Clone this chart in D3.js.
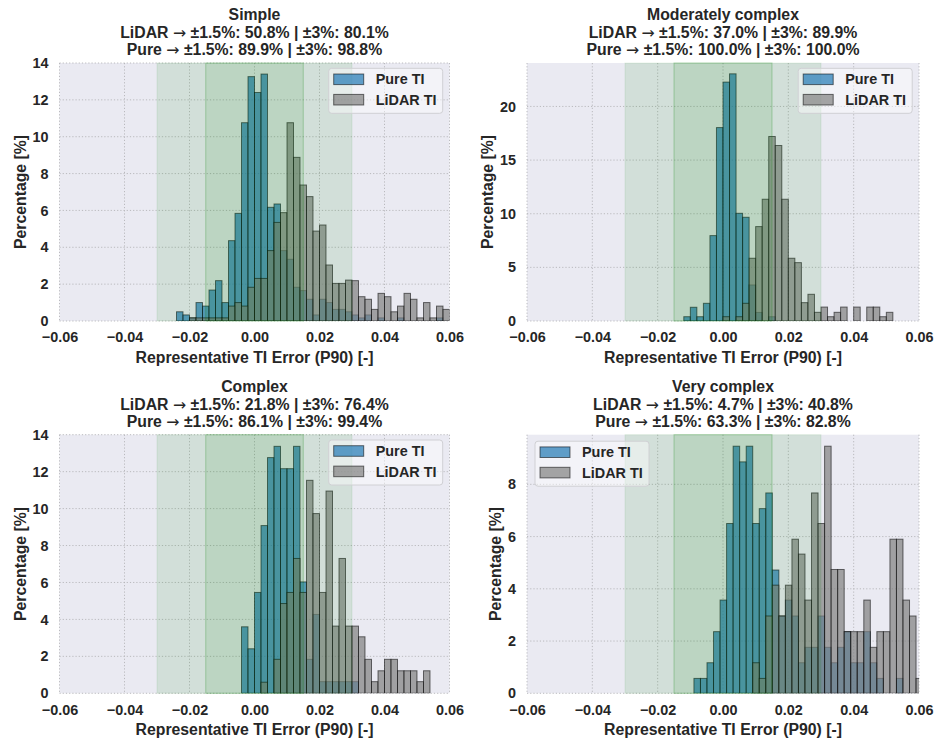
<!DOCTYPE html>
<html>
<head>
<meta charset="utf-8">
<script src="https://cdn.jsdelivr.net/npm/d3@7"></script>
<style>
  body { margin: 0; background: #fff; }
  text { font-family: "Liberation Sans", Arial, sans-serif; font-weight: bold; fill: #262626; }
</style>
</head>
<body>
<svg id="chart" width="935" height="738"></svg>
<script>
// ---- data ----
var panelNames = ["Simple", "Moderately complex", "Complex", "Very complex"];
var lidarIn15 = [50.8, 37.0, 21.8, 4.7];
var lidarIn3 = [80.1, 89.9, 76.4, 40.8];
var pureIn15 = [89.9, 100.0, 86.1, 63.3];
var pureIn3 = [98.8, 100.0, 99.4, 82.8];

var xTicks = [-0.06, -0.04, -0.02, 0, 0.02, 0.04, 0.06];
var yTicksSimple = [0, 2, 4, 6, 8, 10, 12, 14];
var yTicksModerate = [0, 5, 10, 15, 20];
var yTicksComplex = [0, 2, 4, 6, 8, 10, 12, 14];
var yTicksVery = [0, 2, 4, 6, 8];
var yMaxes = [14, 24.05, 14, 9.9];

var binWidth = 0.002;
var binStarts = [-0.024, -0.012, -0.004, -0.0089];

var simplePure = [0.5, 0.33, 0.17, 1.0, 0.81, 1.68, 2.19, 1.0, 4.36, 5.84, 10.76, 13.26, 12.4, 13.4,
  6.17, 6.35, 3.82, 3.35, 1.83, 1.65, 1.18, 0.33, 1.18, 1.0, 0.63, 0.63, 0.5, 0.33, 0.17, 0.33,
  0, 0.17, 0, 0, 0.17, 0, 0, 0, 0, 0, 0.17, 0];
var simpleLidar = [0, 0, 0.17, 0.17, 0.17, 0.17, 0.17, 0.17, 0.81, 1.0, 0.81, 1.83, 2.31, 2.31,
  3.82, 5.35, 5.88, 10.76, 8.88, 7.38, 6.75, 4.88, 5.21, 3.04, 2.04, 2.04, 2.22, 2.19, 1.32, 1.18,
  0.63, 1.5, 1.32, 0.5, 0.81, 1.5, 1.18, 0.17, 1.0, 0.17, 0.81, 0.63];

var moderatePure = [0.4, 1.28, 0.4, 1.65, 7.96, 18.03, 22.27, 23.04, 10.04, 9.67, 3.36, 0.8, 0, 0.4,
  0, 0, 0, 0, 0, 0, 0, 0, 0, 0, 0, 0, 0, 0, 0, 0, 0, 0];
var moderateLidar = [0, 0, 0, 0, 0, 0, 0.4, 0, 0.4, 1.65, 5.85, 8.8, 11.35, 17.2, 16.36, 11.35,
  5.85, 5.44, 1.71, 2.49, 0.81, 1.3, 0.4, 0.81, 1.3, 0, 1.3, 0, 1.3, 1.3, 0.4, 0.81];

var complexPure = [3.6, 2.41, 5.46, 9.08, 12.76, 13.37, 12.16, 12.16, 13.37, 6.03, 1.84, 4.27,
  0.63, 0.63, 0.63, 0.63, 0.63, 0.63, 0, 0, 0, 0, 0, 0, 0, 0, 0, 0, 0];
var complexLidar = [0, 0, 0, 0.6, 0, 1.84, 4.86, 5.46, 7.3, 5.46, 11.53, 9.73, 5.46, 10.95, 3.64,
  7.3, 3.64, 3.64, 3.06, 1.84, 0.63, 1.22, 1.84, 1.84, 1.22, 1.22, 1.22, 0.63, 1.22];

var veryPure = [0.57, 0.57, 1.17, 2.36, 3.57, 6.5, 9.46, 8.86, 9.46, 6.5, 7.07, 7.67, 4.72, 2.96,
  3.57, 2.96, 1.17, 1.76, 1.76, 2.96, 1.76, 1.17, 1.76, 2.36, 1.17, 1.17, 2.36, 1.17, 0.57, 0, 0,
  0.57, 0, 0, 0];
var veryLidar = [0, 0, 0, 0, 0, 0, 0, 0, 0, 1.17, 0.57, 2.96, 4.14, 2.96, 4.14, 5.9, 5.33, 3.57,
  7.67, 6.5, 9.46, 4.74, 4.74, 2.36, 2.36, 2.36, 3.57, 1.76, 2.36, 2.36, 5.9, 5.9, 3.57, 2.96, 0.57];

var pureSeries = [simplePure, moderatePure, complexPure, veryPure];
var lidarSeries = [simpleLidar, moderateLidar, complexLidar, veryLidar];
var yTickSets = [yTicksSimple, yTicksModerate, yTicksComplex, yTicksVery];
var bandInner = 0.015, bandOuter = 0.03;

// ---- layout ----
var boxes = [
  {left: 59.5, top: 63, width: 390, height: 258, legend: "right"},
  {left: 527, top: 63, width: 392, height: 258, legend: "right"},
  {left: 59.5, top: 434.7, width: 390, height: 258.6, legend: "right"},
  {left: 527, top: 434.7, width: 392, height: 258.6, legend: "left"}
];
var colors = {
  bg: "#eaeaf2",
  grid: "#b4b4b8",
  pure: "#1f77b4",
  lidar: "#808080",
  band: "green"
};
var fmt1 = d3.format(".1f");
var svg = d3.select("#chart");

var drawPanel = function(i) {
  var b = boxes[i];
  var g = svg.append("g").attr("transform", "translate(" + b.left + "," + b.top + ")");

  var x = d3.scaleLinear().domain([-0.06, 0.06]).range([0, b.width]);
  var y = d3.scaleLinear().domain([0, yMaxes[i]]).range([b.height, 0]);

  g.append("rect").attr("width", b.width).attr("height", b.height).attr("fill", colors.bg);

  var clipId = "clip" + i;
  g.append("clipPath").attr("id", clipId)
    .append("rect").attr("width", b.width).attr("height", b.height);

  // grid
  var grid = g.append("g").attr("stroke", colors.grid).attr("stroke-width", 0.9)
    .attr("stroke-dasharray", "1.2,2");
  grid.selectAll(".vx").data(xTicks).enter().append("line")
    .attr("x1", function(d) { return x(d); }).attr("x2", function(d) { return x(d); })
    .attr("y1", 0).attr("y2", b.height);
  grid.selectAll(".hy").data(yTickSets[i]).enter().append("line")
    .attr("x1", 0).attr("x2", b.width)
    .attr("y1", function(d) { return y(d); }).attr("y2", function(d) { return y(d); });

  // bars
  var bars = g.append("g").attr("clip-path", "url(#" + clipId + ")");
  var drawHist = function(values, color) {
    var data = values.map(function(v, j) {
      return {x0: binStarts[i] + j * binWidth, x1: binStarts[i] + (j + 1) * binWidth, v: v};
    }).filter(function(d) { return d.v > 0; });
    bars.append("g").selectAll("rect").data(data).enter().append("rect")
      .attr("x", function(d) { return x(d.x0); })
      .attr("width", function(d) { return x(d.x1) - x(d.x0); })
      .attr("y", function(d) { return y(d.v); })
      .attr("height", function(d) { return y(0) - y(d.v); })
      .attr("fill", color).attr("fill-opacity", 0.7)
      .attr("stroke", "#000").attr("stroke-opacity", 0.55).attr("stroke-width", 1);
  };
  drawHist(pureSeries[i], colors.pure);
  drawHist(lidarSeries[i], colors.lidar);

  // tolerance bands, drawn over the bars
  [bandOuter, bandInner].forEach(function(w, k) {
    g.append("rect")
      .attr("x", x(-w)).attr("y", 0)
      .attr("width", x(w) - x(-w)).attr("height", b.height)
      .attr("fill", colors.band).attr("fill-opacity", 0.1)
      .attr("stroke", colors.band).attr("stroke-opacity", k ? 0.25 : 0.08);
  });

  // axes
  var xAxis = g.append("g").attr("transform", "translate(0," + b.height + ")")
    .call(d3.axisBottom(x).tickValues(xTicks).tickFormat(d3.format(".2f")).tickSize(0).tickPadding(11));
  var yAxis = g.append("g")
    .call(d3.axisLeft(y).tickValues(yTickSets[i]).tickFormat(d3.format("d")).tickSize(0).tickPadding(11));
  [xAxis, yAxis].forEach(function(a) {
    a.select(".domain").remove();
    a.selectAll("text").attr("font-size", 14.4).attr("font-family", null).attr("fill", "#262626");
  });

  var maxW = 0;
  yAxis.selectAll("text").each(function() { maxW = Math.max(maxW, this.getComputedTextLength()); });

  g.append("text")
    .attr("x", b.width / 2).attr("y", b.height + 41.5)
    .attr("text-anchor", "middle").attr("font-size", 15.8)
    .text("Representative TI Error (P90) [-]");
  g.append("text")
    .attr("transform", "translate(" + (-11 - maxW - 12.5 + 5.7) + "," + (b.height / 2) + ") rotate(-90)")
    .attr("text-anchor", "middle").attr("font-size", 15.8)
    .text("Percentage [%]");

  // title: name, then the two score lines (arrow set in DejaVu for a full-width glyph)
  var lines = [
    [panelNames[i]],
    ["LiDAR ", "\u2192", " \u00b11.5%: " + fmt1(lidarIn15[i]) + "% | \u00b13%: " + fmt1(lidarIn3[i]) + "%"],
    ["Pure ", "\u2192", " \u00b11.5%: " + fmt1(pureIn15[i]) + "% | \u00b13%: " + fmt1(pureIn3[i]) + "%"]
  ];
  lines.forEach(function(parts, k) {
    var t = g.append("text")
      .attr("x", b.width / 2).attr("y", -42.6 + k * 17.4)
      .attr("text-anchor", "middle").attr("font-size", 15.8);
    parts.forEach(function(p, m) {
      var s = t.append("tspan").text(p);
      if (m === 1) s.attr("font-family", "DejaVu Sans").attr("font-weight", "normal");
    });
  });

  // legend
  var lw = 114, lh = 45;
  var lx = b.legend === "right" ? b.width - 6.8 - lw : 8;
  var ly = b.legend === "right" ? 5.3 : 6.5;
  var leg = g.append("g").attr("transform", "translate(" + lx + "," + ly + ")");
  leg.append("rect").attr("width", lw).attr("height", lh).attr("rx", 3)
    .attr("fill", "#fff").attr("fill-opacity", 0.45)
    .attr("stroke", "#d0d0d4").attr("stroke-width", 1);
  var entries = [{label: "Pure TI", color: colors.pure}, {label: "LiDAR TI", color: colors.lidar}];
  entries.forEach(function(e, k) {
    var cy = 11 + k * 20.4;
    leg.append("rect").attr("x", 5).attr("y", cy - 5.3).attr("width", 30).attr("height", 10.6)
      .attr("fill", e.color).attr("fill-opacity", 0.7)
      .attr("stroke", "#000").attr("stroke-opacity", 0.55);
    leg.append("text").attr("x", 47).attr("y", cy + 5.2).attr("font-size", 14.4).text(e.label);
  });
};

for (var i = 0; i < 4; i++) drawPanel(i);
</script>
</body>
</html>
